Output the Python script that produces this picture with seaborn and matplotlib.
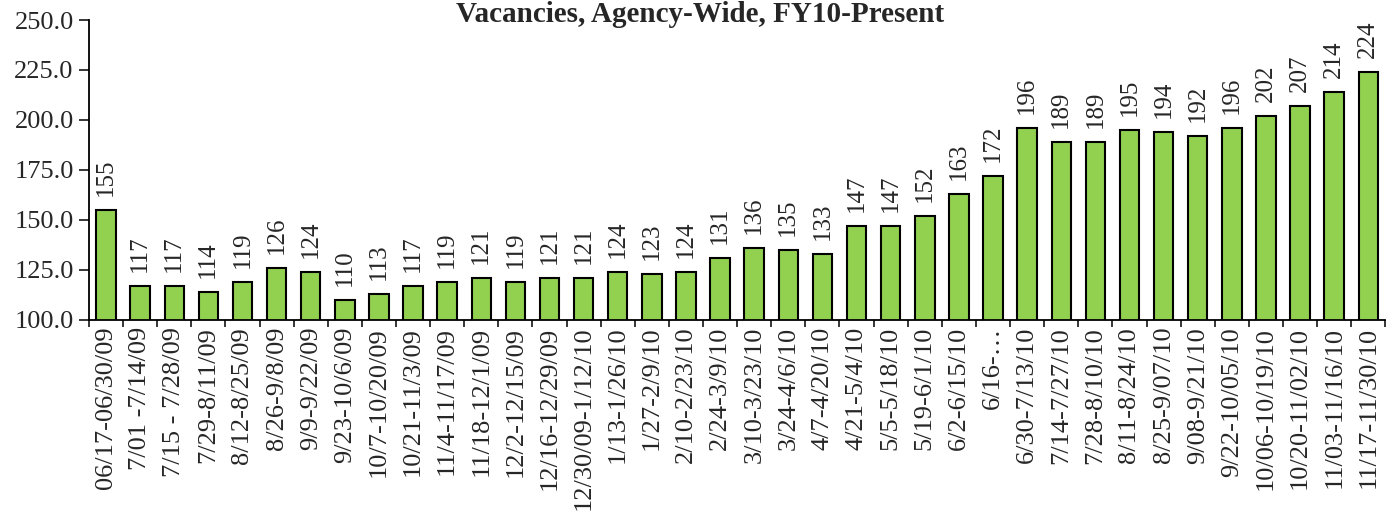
import pandas as pd
import matplotlib
matplotlib.use("Agg")
import matplotlib.pyplot as plt
import seaborn as sns
from matplotlib.ticker import FormatStrFormatter, FixedLocator

periods = [
    "06/17-06/30/09", "7/01 -7/14/09", "7/15 - 7/28/09", "7/29-8/11/09",
    "8/12-8/25/09", "8/26-9/8/09", "9/9-9/22/09", "9/23-10/6/09",
    "10/7-10/20/09", "10/21-11/3/09", "11/4-11/17/09", "11/18-12/1/09",
    "12/2-12/15/09", "12/16-12/29/09", "12/30/09-1/12/10", "1/13-1/26/10",
    "1/27-2/9/10", "2/10-2/23/10", "2/24-3/9/10", "3/10-3/23/10",
    "3/24-4/6/10", "4/7-4/20/10", "4/21-5/4/10", "5/5-5/18/10",
    "5/19-6/1/10", "6/2-6/15/10", "6/16-…", "6/30-7/13/10",
    "7/14-7/27/10", "7/28-8/10/10", "8/11-8/24/10", "8/25-9/07/10",
    "9/08-9/21/10", "9/22-10/05/10", "10/06-10/19/10", "10/20-11/02/10",
    "11/03-11/16/10", "11/17-11/30/10",
]
vacancies = [
    155, 117, 117, 114, 119, 126, 124, 110, 113, 117,
    119, 121, 119, 121, 121, 124, 123, 124, 131, 136,
    135, 133, 147, 147, 152, 163, 172, 196, 189, 189,
    195, 194, 192, 196, 202, 207, 214, 224,
]
y_ticks = [100, 125, 150, 175, 200, 225, 250]

df = pd.DataFrame({"period": periods, "vacancies": vacancies})

sns.set_style("ticks")
plt.rcParams["font.family"] = ["Liberation Serif", "DejaVu Serif"]

fig = plt.figure(figsize=(13.94, 5.21), dpi=100)
ax = fig.add_axes([0.0638, 0.386, 0.930, 0.5756])

sns.barplot(data=df, x="period", y="vacancies", color="#92D050",
            edgecolor="black", linewidth=1.5, width=0.57, saturation=1, ax=ax)

ax.set_ylim(100, 250)
ax.set_yticks(y_ticks)
ax.yaxis.set_major_formatter(FormatStrFormatter("%.1f"))
ax.tick_params(axis="y", labelsize=19, length=7, width=1.3, direction="out", pad=4)
ax.tick_params(axis="x", labelsize=19, rotation=90, length=0, pad=5)
ax.xaxis.set_minor_locator(FixedLocator([i - 0.5 for i in range(len(periods) + 1)]))
ax.tick_params(axis="x", which="minor", length=5, width=1.3, direction="out")
ax.set_xlim(-0.5, len(periods) - 0.5)
ax.set_xlabel("")
ax.set_ylabel("")

for lbl in ax.get_xticklabels():
    lbl.set_va("top")
    lbl.set_ha("center")

ax.bar_label(ax.containers[0], labels=[str(v) for v in vacancies],
             rotation=90, padding=10, fontsize=18)

sns.despine(ax=ax)
for s in ("left", "bottom"):
    ax.spines[s].set_linewidth(1.3)
    ax.spines[s].set_color("black")

fig.text(0.502, 0.999, "Vacancies, Agency-Wide, FY10-Present", ha="center",
         va="top", fontsize=21, fontweight="bold")

fig.savefig("out.png", dpi=100)
